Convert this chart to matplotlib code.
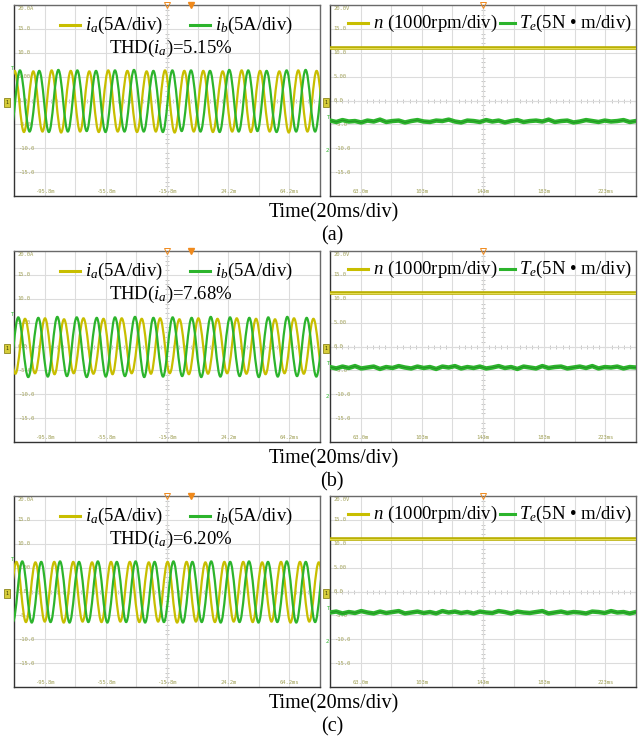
import numpy as np
import matplotlib
matplotlib.use('Agg')
from matplotlib import pyplot as plt
from matplotlib.path import Path
from matplotlib.patches import PathPatch

plt.rcParams['font.family'] = ['Liberation Serif', 'DejaVu Serif']
plt.rcParams['mathtext.fontset'] = 'custom'
plt.rcParams['mathtext.rm'] = 'Liberation Serif'
plt.rcParams['mathtext.it'] = 'Liberation Serif:italic'

# ---- data ----
# currents: times (ms) of successive extrema and their values (A)
ia_t_a = [-121.6, -115.4, -109.3, -103.2, -97.2, -91.2, -85.0, -78.7, -72.6, -66.6, -60.4, -54.2,
          -48.0, -41.7, -35.4, -29.1, -23.1, -17.1, -10.8, -4.5, 1.7, 7.9, 14.2, 20.6, 26.8, 33.0,
          39.0, 45.0, 51.3, 57.6, 63.8, 70.0, 76.0, 82.0, 88.2]
ia_v_a = [-6.5, 6.2, -6.6, 6.1, -6.5, 6.3, -6.7, 6.2, -6.5, 6.1, -6.6, 6.3, -6.5, 6.2, -6.6, 6.1,
          -6.5, 6.3, -6.7, 6.2, -6.5, 6.2, -6.6, 6.1, -6.5, 6.3, -6.6, 6.2, -6.5, 6.1, -6.7, 6.3,
          -6.5, 6.2, -6.6]
ib_t_a = [-118.1, -111.9, -105.6, -99.3, -93.0, -86.8, -80.6, -74.4, -68.3, -62.2, -56.0, -49.8,
          -43.6, -37.4, -31.0, -24.7, -18.5, -12.3, -6.2, -0.1, 6.1, 12.3, 18.6, 24.9, 31.1, 37.3,
          43.3, 49.3, 55.8, 62.4, 68.6, 74.8, 81.0, 87.1]
ib_v_a = [-6.4, 6.3, -6.5, 6.2, -6.6, 6.4, -6.5, 6.3, -6.4, 6.2, -6.6, 6.3, -6.5, 6.4, -6.5, 6.2,
          -6.6, 6.3, -6.4, 6.3, -6.5, 6.2, -6.6, 6.4, -6.5, 6.3, -6.4, 6.2, -6.6, 6.3, -6.5, 6.4,
          -6.5, 6.3]

ib_t_b = [-119.3, -113.0, -106.5, -99.9, -93.7, -87.5, -81.2, -74.8, -68.3, -61.7, -55.8, -49.8,
          -43.3, -36.7, -30.7, -24.7, -18.4, -12.1, -5.9, 0.3, 6.6, 12.8, 19.1, 25.4, 31.7, 38.0,
          44.2, 50.4, 56.6, 62.8, 69.2, 75.5, 81.8, 88.0]
ib_v_b = [-6.3, 6.1, -6.4, 6.0, -6.3, 6.2, -6.2, 6.1, -6.4, 6.0, -6.3, 6.1, -6.2, 6.2, -6.4, 6.0,
          -6.3, 6.1, -6.2, 6.0, -6.4, 6.2, -6.3, 6.1, -6.2, 6.0, -6.4, 6.1, -6.3, 6.2, -6.2, 6.0,
          -6.3, 6.1]
ia_t_b = [-121.2, -114.9, -108.6, -102.1, -95.5, -89.3, -83.1, -76.8, -70.4, -63.9, -57.3, -51.4,
          -45.4, -38.9, -32.3, -26.3, -20.3, -14.0, -7.7, -1.5, 4.7, 11.0, 17.2, 23.5, 29.8, 36.1,
          42.4, 48.6, 54.8, 61.0, 67.2, 73.6, 79.9, 86.2]
ia_v_b = [5.9, -5.7, 5.8, -5.6, 5.9, -5.8, 5.7, -5.6, 5.9, -5.7, 5.8, -5.8, 5.9, -5.6, 5.8, -5.7,
          5.9, -5.6, 5.7, -5.8, 5.9, -5.7, 5.8, -5.6, 5.9, -5.7, 5.8, -5.8, 5.7, -5.6, 5.9, -5.7,
          5.8, -5.6]

ia_t_c = [-120.4, -114.2, -108.0, -101.8, -95.7, -89.5, -83.3, -77.1, -71.0, -64.8, -58.6, -52.4,
          -46.3, -40.1, -33.9, -27.7, -21.6, -15.4, -9.2, -3.0, 3.1, 9.3, 15.5, 21.7, 27.8, 34.0,
          40.2, 46.4, 52.5, 58.7, 64.9, 71.1, 77.2, 83.4, 89.6]
ia_v_c = [-6.3, 6.2, -6.4, 6.1, -6.3, 6.2, -6.5, 6.2, -6.3, 6.1, -6.4, 6.2, -6.3, 6.2, -6.4, 6.1,
          -6.3, 6.2, -6.5, 6.2, -6.3, 6.1, -6.4, 6.2, -6.3, 6.2, -6.4, 6.1, -6.3, 6.2, -6.5, 6.2,
          -6.3, 6.1, -6.4]
ib_t_c = [-116.6, -110.4, -104.2, -98.0, -91.9, -85.7, -79.5, -73.3, -67.2, -61.0, -54.8, -48.6,
          -42.5, -36.3, -30.1, -23.9, -17.8, -11.6, -5.4, 0.8, 6.9, 13.1, 19.3, 25.5, 31.6, 37.8,
          44.0, 50.2, 56.3, 62.5, 68.7, 74.9, 81.0, 87.2]
ib_v_c = [-6.4, 6.3, -6.5, 6.2, -6.4, 6.3, -6.5, 6.2, -6.4, 6.3, -6.5, 6.2, -6.4, 6.3, -6.5, 6.2,
          -6.4, 6.3, -6.5, 6.2, -6.4, 6.3, -6.5, 6.2, -6.4, 6.3, -6.5, 6.2, -6.4, 6.3, -6.5, 6.2,
          -6.4, 6.3]

# speed (V on scope, 1000rpm/div) and torque trace samples (V on scope, 5N*m/div)
speed_a, speed_b, speed_c = 11.0, 11.1, 10.9
te_a = [-4.2, -4.5, -4.1, -4.4, -4.3, -4.6, -4.2, -4.4, -4.0, -4.5, -4.3, -4.2, -4.6, -4.3, -4.1,
        -4.4, -4.5, -4.2, -4.3, -4.0, -4.4, -4.6, -4.2, -4.3, -4.5, -4.1, -4.4, -4.2, -4.6, -4.3,
        -4.1, -4.5, -4.3, -4.2, -4.4, -4.0, -4.5, -4.3, -4.2, -4.6, -4.4, -4.1, -4.3, -4.5, -4.2,
        -4.4, -4.3, -4.1, -4.5, -4.3]
te_b = [-4.3, -4.6, -4.2, -4.5, -4.1, -4.6, -4.4, -4.2, -4.7, -4.3, -4.5, -4.1, -4.4, -4.6, -4.2,
        -4.5, -4.3, -4.7, -4.2, -4.4, -4.1, -4.6, -4.3, -4.5, -4.2, -4.6, -4.4, -4.1, -4.5, -4.3,
        -4.7, -4.2, -4.4, -4.6, -4.1, -4.5, -4.3, -4.2, -4.6, -4.4, -4.2, -4.5, -4.1, -4.6, -4.3,
        -4.4, -4.2, -4.6, -4.3, -4.4]
te_c = [-4.4, -4.2, -4.6, -4.3, -4.5, -4.1, -4.4, -4.6, -4.2, -4.5, -4.3, -4.1, -4.6, -4.4, -4.2,
        -4.5, -4.3, -4.6, -4.1, -4.4, -4.2, -4.5, -4.3, -4.6, -4.2, -4.4, -4.5, -4.1, -4.3, -4.6,
        -4.2, -4.4, -4.5, -4.3, -4.1, -4.6, -4.4, -4.2, -4.5, -4.3, -4.4, -4.6, -4.2, -4.3, -4.5,
        -4.1, -4.4, -4.3, -4.6, -4.3]

thd_values = ['5.15%', '7.68%', '6.20%']
panel_tags = ['(a)', '(b)', '(c)']

ylab_left = ['20.0A', '15.0', '10.0', '5.00', '0.0', '-5.0', '-10.0', '-15.0']
ylab_right = ['20.0V', '15.0', '10.0', '5.00', '0.0', '-5.0', '-10.0', '-15.0']
ylab_vals = [20, 15, 10, 5, 0, -5, -10, -15]
xtick_left = [-95.8, -55.8, -15.8, 24.2, 64.2]
xlab_left = ['-95.8m', '-55.8m', '-15.8m', '24.2m', '64.2ms']
xtick_right = [63.0, 103.0, 143.0, 183.0, 223.0]
xlab_right = ['63.0m', '103m', '143m', '183m', '223ms']

YELLOW = '#c8be00'
GREEN = '#2cb42c'
LABEL = '#a3a35c'
ORANGE = '#f08a1c'


def draw_wave(ax, times, vals, color):
    # smooth curve through the extrema (horizontal tangent at each extremum)
    verts = [(times[0], vals[0])]
    codes = [Path.MOVETO]
    for t0, v0, t1, v1 in zip(times[:-1], vals[:-1], times[1:], vals[1:]):
        d = (t1 - t0) * 0.3634
        verts += [(t0 + d, v0), (t1 - d, v1), (t1, v1)]
        codes += [Path.CURVE4] * 3
    ax.add_patch(PathPatch(Path(verts, codes), fill=False, edgecolor=color, lw=1.6, zorder=4))


def scope_axes(ax, xmin, ylabels, xticks, xlabels):
    ax.set_xlim(xmin, xmin + 200)
    ax.set_ylim(-20, 20)
    ax.set_xticks(np.arange(xmin, xmin + 200.1, 20))
    ax.set_yticks(np.arange(-20, 20.1, 5))
    ax.tick_params(length=0, labelbottom=False, labelleft=False)
    ax.grid(True, color='#dcdcdc', lw=0.8, zorder=0)
    for s in ax.spines.values():
        s.set_color('#6a6a6a')
        s.set_linewidth(1.0)
    ax.spines['left'].set_color('#333333')
    ax.spines['bottom'].set_color('#333333')
    # centre cross with small division marks
    xc = xmin + 100
    ax.axhline(0, color='#c6c6c6', lw=0.8, ls=(0, (2, 1.5)), zorder=1)
    ax.axvline(xc, color='#d8b890', lw=0.8, ls=(0, (2, 1.5)), zorder=1)
    ax.plot(np.arange(xmin, xmin + 200, 4), np.zeros(50), ls='none', marker='|',
            ms=2.5, color='#bdbdbd', mew=0.6, zorder=1)
    ax.plot(np.full(40, xc), np.arange(-20, 20, 1), ls='none', marker='_',
            ms=2.5, color='#bdbdbd', mew=0.6, zorder=1)
    for v, lab in zip(ylab_vals, ylabels):
        ax.text(0.012, (v + 20) / 40 - (0.004 if v == 20 else 0), lab,
                transform=ax.transAxes, fontsize=4, family='DejaVu Sans Mono',
                color=LABEL, ha='left', va='top' if v == 20 else 'center', zorder=2)
    for t, lab in zip(xticks, xlabels):
        ax.text((t - xmin) / 200, 0.012, lab, transform=ax.transAxes, fontsize=4,
                family='DejaVu Sans Mono', color=LABEL, ha='center', va='bottom', zorder=2)


def left_markers(ax, right_panel):
    ax.text(-0.022 if not right_panel else -0.012, 0.49, '1', transform=ax.transAxes,
            fontsize=3.5, family='DejaVu Sans Mono', ha='center', va='center', color='#333300',
            bbox=dict(boxstyle='square,pad=0.35', fc='#d6cc3a', ec='#7a7400', lw=0.5),
            clip_on=False, zorder=6)
    ax.text(-0.008, 0.67 if not right_panel else 0.41, 'T', transform=ax.transAxes,
            fontsize=4, family='DejaVu Sans', color=GREEN, ha='center', va='center',
            clip_on=False, zorder=6)
    if right_panel:
        ax.text(-0.008, 0.24, '2', transform=ax.transAxes, fontsize=4, family='DejaVu Sans',
                color=GREEN, ha='center', va='center', clip_on=False, zorder=6)
        ax.plot([0.5], [1.0], transform=ax.transAxes, marker='v', ms=4, mfc='none',
                mec=ORANGE, mew=0.7, clip_on=False, zorder=6)
    else:
        ax.plot([0.5], [1.0], transform=ax.transAxes, marker='v', ms=4, mfc='none',
                mec=ORANGE, mew=0.7, clip_on=False, zorder=6)
        ax.plot([0.58], [1.0], transform=ax.transAxes, marker='v', ms=4, color=ORANGE,
                clip_on=False, zorder=6)


fig = plt.figure(figsize=(6.39, 7.42), dpi=100)
W, H = 639.0, 742.0
rows = [
    (5, ia_t_a, ia_v_a, ib_t_a, ib_v_a, speed_a, te_a),
    (251, ia_t_b, ia_v_b, ib_t_b, ib_v_b, speed_b, te_b),
    (496, ia_t_c, ia_v_c, ib_t_c, ib_v_c, speed_c, te_c),
]
for k, (top, ia_t, ia_v, ib_t, ib_v, speed, te) in enumerate(rows):
    bottom = top + 191
    axl = fig.add_axes([14 / W, (H - bottom) / H, 306 / W, 191 / H])
    axr = fig.add_axes([330 / W, (H - bottom) / H, 306 / W, 191 / H])

    scope_axes(axl, -115.8, ylab_left, xtick_left, xlab_left)
    draw_wave(axl, ia_t, ia_v, YELLOW)
    draw_wave(axl, ib_t, ib_v, GREEN)
    left_markers(axl, False)

    axl.plot([0.150, 0.216], [0.895, 0.895], transform=axl.transAxes, color=YELLOW, lw=2.2, zorder=5)
    axl.text(0.232, 0.895, '$i_a$(5A/div)', transform=axl.transAxes, fontsize=13.5,
             va='center', ha='left', zorder=5)
    axl.plot([0.575, 0.641], [0.895, 0.895], transform=axl.transAxes, color=GREEN, lw=2.2, zorder=5)
    axl.text(0.657, 0.895, '$i_b$(5A/div)', transform=axl.transAxes, fontsize=13.5,
             va='center', ha='left', zorder=5)
    axl.text(0.513, 0.775, 'THD($i_a$)=' + thd_values[k], transform=axl.transAxes,
             fontsize=13.5, va='center', ha='center', zorder=5)

    scope_axes(axr, 43.0, ylab_right, xtick_right, xlab_right)
    axr.axhline(speed, color='#b8ae00', lw=2.6, zorder=4)
    axr.axhline(speed, color='#e4dc50', lw=0.8, zorder=4)
    te_x = np.linspace(43.0, 243.0, len(te))
    axr.plot(te_x, te, color=GREEN, lw=3.2, zorder=4)
    axr.plot(te_x, te, color='#1d6a1d', lw=0.5, alpha=0.6, zorder=4)
    left_markers(axr, True)

    axr.plot([0.059, 0.124], [0.906, 0.906], transform=axr.transAxes, color=YELLOW, lw=2.2, zorder=5)
    axr.text(0.14, 0.906, '$n$ (1000rpm/div)', transform=axr.transAxes, fontsize=13.5,
             va='center', ha='left', zorder=5)
    axr.plot([0.556, 0.605], [0.906, 0.906], transform=axr.transAxes, color=GREEN, lw=2.2, zorder=5)
    axr.text(0.618, 0.906, '$T_e$(5N \u2022 m/div)', transform=axr.transAxes, fontsize=13.5,
             va='center', ha='left', zorder=5)

    fig.text(334 / W, (H - (bottom + 17)) / H, 'Time(20ms/div)', fontsize=14.5,
             ha='center', va='center')
    fig.text(332 / W, (H - (bottom + 40)) / H, panel_tags[k], fontsize=14.5,
             ha='center', va='center')

fig.savefig('out.png', dpi=100, facecolor='white')
